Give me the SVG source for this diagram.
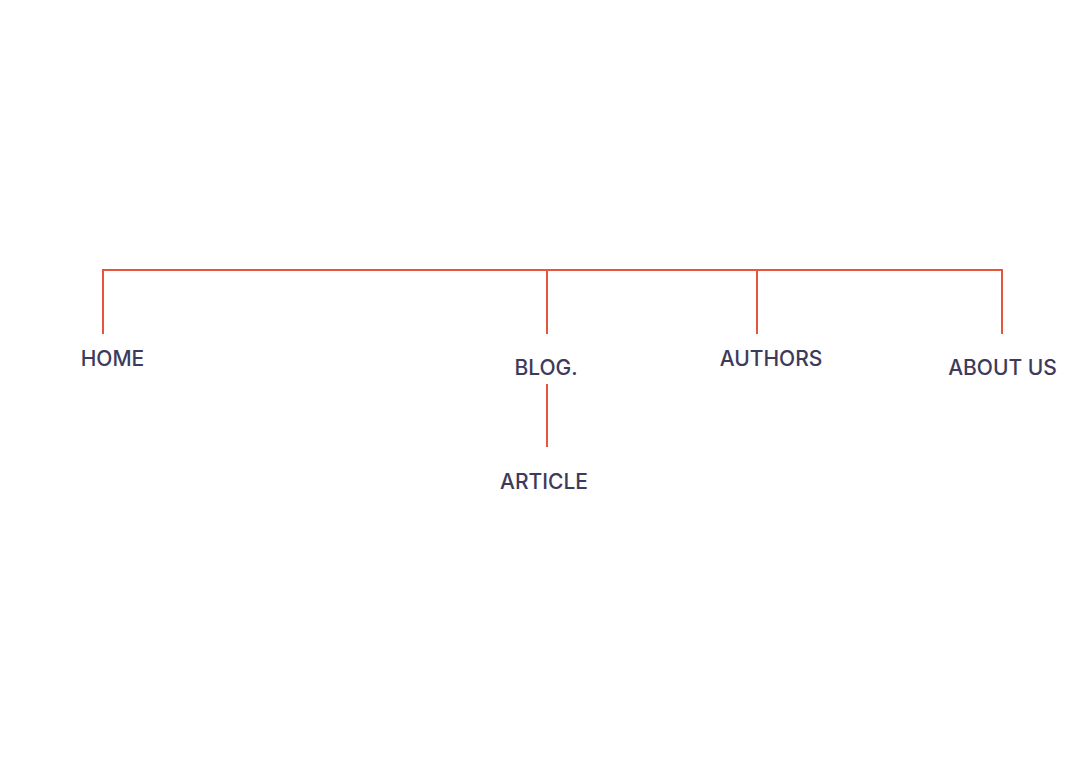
<svg xmlns="http://www.w3.org/2000/svg" width="1080" height="768" viewBox="0 0 1080 768">
<style>
.c{stroke:#e8553f;stroke-width:2;fill:none}
.t{font-family:Inter,"Open Sans","Liberation Sans",sans-serif;font-size:21px;fill:#3d3a5c;text-anchor:middle;font-weight:500}
</style>
<rect width="1080" height="768" fill="#ffffff"/>
<g id="connectors">
<path class="c" d="M103 334V270H1002V334"/>
<path class="c" d="M547 270V334"/>
<path class="c" d="M757 270V334"/>
<path class="c" d="M547 384V447"/>
</g>
<g id="home"><text class="t" x="112.5" y="366">HOME</text></g>
<g id="blog"><text class="t" x="546" y="375">BLOG.</text></g>
<g id="authors"><text class="t" x="771" y="366">AUTHORS</text></g>
<g id="about"><text class="t" x="1002.5" y="375">ABOUT US</text></g>
<g id="article"><text class="t" x="544" y="489">ARTICLE</text></g>
</svg>
